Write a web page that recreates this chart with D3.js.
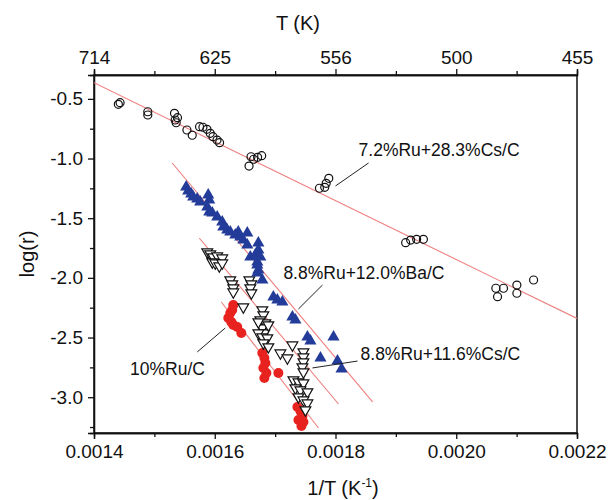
<!DOCTYPE html>
<html>
<head>
<meta charset="utf-8">
<script src="https://cdn.jsdelivr.net/npm/d3@7"></script>
<style>
  body { margin: 0; background: #fff; }
  text { font-family: "Liberation Sans", Arial, sans-serif; fill: #111; }
</style>
</head>
<body>
<script>
// data: [1/T, log(r)]
var csHigh = [
  [0.0014403, -0.546], [0.0014432, -0.532], [0.0014891, -0.635], [0.0014891, -0.608],
  [0.0015333, -0.621], [0.0015344, -0.677], [0.0015361, -0.700], [0.0015383, -0.658],
  [0.0015539, -0.761], [0.0015627, -0.805], [0.0015748, -0.733], [0.0015804, -0.738],
  [0.0015871, -0.755], [0.0015925, -0.789], [0.0015970, -0.817], [0.0016037, -0.845],
  [0.0016080, -0.867], [0.0016568, -1.063], [0.0016601, -0.985], [0.0016644, -1.006],
  [0.0016710, -0.990], [0.0016777, -0.976], [0.0017734, -1.249], [0.0017822, -1.241],
  [0.0017846, -1.208], [0.0017889, -1.166], [0.0019162, -1.705], [0.0019245, -1.683],
  [0.0019344, -1.677], [0.0019456, -1.677], [0.0020656, -2.087], [0.0020684, -2.158],
  [0.0020783, -2.087], [0.0021004, -2.060], [0.0021004, -2.129], [0.0021281, -2.018]
];
var baC = [
  [0.0015527, -1.239], [0.0015560, -1.272], [0.0015610, -1.297], [0.0015643, -1.322],
  [0.0015710, -1.339], [0.0015759, -1.364], [0.0015892, -1.306], [0.0015909, -1.348],
  [0.0015876, -1.406], [0.0015909, -1.448], [0.0015959, -1.456], [0.0016041, -1.490],
  [0.0016124, -1.532], [0.0016141, -1.574], [0.0016207, -1.599], [0.0016257, -1.616],
  [0.0016340, -1.641], [0.0016390, -1.616], [0.0016423, -1.658], [0.0016473, -1.683],
  [0.0016539, -1.624], [0.0016539, -1.725], [0.0016589, -1.825], [0.0016722, -1.708],
  [0.0016722, -1.767], [0.0016755, -1.825], [0.0016672, -1.808], [0.0016705, -1.867],
  [0.0016705, -1.892], [0.0016722, -1.934], [0.0016705, -1.959], [0.0016788, -2.018],
  [0.0016971, -2.160], [0.0017037, -2.186], [0.0017120, -2.202], [0.0017286, -2.328],
  [0.0017336, -2.353], [0.0017535, -2.496], [0.0017585, -2.529], [0.0017751, -2.672],
  [0.0017967, -2.496], [0.0018033, -2.697], [0.0018100, -2.764]
];
var csLow = [
  [0.0015876, -1.783], [0.0015925, -1.800], [0.0015975, -1.825], [0.0016041, -1.817],
  [0.0016124, -1.834], [0.0015959, -1.867], [0.0016008, -1.876], [0.0016075, -1.901],
  [0.0016124, -1.876], [0.0016257, -2.018], [0.0016290, -2.051], [0.0016307, -2.085],
  [0.0016307, -2.119], [0.0016573, -2.018], [0.0016606, -2.051], [0.0016589, -2.085],
  [0.0016606, -2.127], [0.0016473, -2.244], [0.0016788, -2.269], [0.0016805, -2.311],
  [0.0016755, -2.353], [0.0016838, -2.378], [0.0016788, -2.420], [0.0016822, -2.462],
  [0.0016722, -2.370], [0.0016888, -2.395], [0.0016722, -2.462], [0.0016788, -2.496],
  [0.0016871, -2.504], [0.0016805, -2.546], [0.0016888, -2.579], [0.0017286, -2.563],
  [0.0017087, -2.630], [0.0017203, -2.672], [0.0017469, -2.621], [0.0017469, -2.663],
  [0.0017469, -2.705], [0.0017452, -2.747], [0.0017469, -2.789], [0.0017303, -2.856],
  [0.0017386, -2.873], [0.0017469, -2.881], [0.0017336, -2.923], [0.0017419, -2.940],
  [0.0017535, -2.956], [0.0017386, -2.998], [0.0017469, -3.024], [0.0017535, -3.049],
  [0.0017502, -3.107]
];
var ruC = [
  [0.0016307, -2.227], [0.0016290, -2.269], [0.0016257, -2.294], [0.0016224, -2.336],
  [0.0016274, -2.370], [0.0016307, -2.395], [0.0016373, -2.412], [0.0016440, -2.462],
  [0.0016788, -2.630], [0.0016822, -2.672], [0.0016838, -2.713], [0.0016805, -2.755],
  [0.0016855, -2.797], [0.0016822, -2.839], [0.0017054, -2.797], [0.0017369, -3.082],
  [0.0017419, -3.116], [0.0017452, -3.158], [0.0017386, -3.191], [0.0017469, -3.208],
  [0.0017436, -3.241]
];

// fitted lines: [x1, y1, x2, y2]
var fits = [
  [0.0014, -0.365, 0.0022, -2.34],
  [0.0015295, -1.0375, 0.0018614, -3.04],
  [0.0015743, -1.666, 0.0018050, -3.057],
  [0.0016108, -2.202, 0.0017718, -3.258]
];

// labels: text, text start [x, y], pointer [x1, y1, x2, y2]
var labels = [
  { text: '7.2%Ru+28.3%Cs/C', at: [0.0018382, -0.979], ptr: [0.0018548, -1.037, 0.0018000, -1.230] },
  { text: '8.8%Ru+12.0%Ba/C', at: [0.0017137, -2.010], ptr: [0.0017784, -2.060, 0.0017386, -2.261] },
  { text: '8.8%Ru+11.6%Cs/C', at: [0.0018415, -2.688], ptr: [0.0018365, -2.697, 0.0017618, -2.755] },
  { text: '10%Ru/C', at: [0.0014598, -2.814], ptr: [0.0015710, -2.621, 0.0016174, -2.420] }
];

var xTicks = [0.0014, 0.0016, 0.0018, 0.0020, 0.0022];
var xMinor = [0.0015, 0.0017, 0.0019, 0.0021];
var topLabels = ['714', '625', '556', '500', '455'];
var yTicks = [-0.5, -1.0, -1.5, -2.0, -2.5, -3.0];
var yMinor = [-0.75, -1.25, -1.75, -2.25, -2.75, -3.25];

var svgWidth = 610, svgHeight = 500;
var margin = { top: 75, left: 94, right: 33, bottom: 67 };
var chartWidth = svgWidth - margin.left - margin.right;
var chartHeight = svgHeight - margin.top - margin.bottom;

var svg = d3.select('body').append('svg')
  .attr('width', svgWidth)
  .attr('height', svgHeight);

var chartGroup = svg.append('g')
  .attr('transform', `translate(${margin.left}, ${margin.top})`);

var x = d3.scaleLinear().domain([0.0014, 0.0022]).range([0, chartWidth]);
var y = d3.scaleLinear().domain([-3.3, -0.3]).range([chartHeight, 0]);

function styleAxis(g) {
  g.selectAll('path, line').attr('stroke', '#111').attr('stroke-width', 1.3);
  g.selectAll('text').attr('font-size', '19px').style('font-family', '"Liberation Sans", Arial, sans-serif').attr('fill', '#111');
}

// frame
chartGroup.append('rect')
  .attr('width', chartWidth).attr('height', chartHeight)
  .attr('fill', 'none').attr('stroke', '#111').attr('stroke-width', 1.5);

// bottom axis
chartGroup.append('g')
  .attr('transform', `translate(0, ${chartHeight})`)
  .call(d3.axisBottom(x).tickValues(xTicks).tickFormat(d => d.toFixed(4)).tickSizeOuter(0).tickSize(6).tickPadding(6))
  .call(styleAxis);
chartGroup.append('g')
  .attr('transform', `translate(0, ${chartHeight})`)
  .call(d3.axisBottom(x).tickValues(xMinor).tickFormat('').tickSizeOuter(0).tickSize(4))
  .call(styleAxis);

// top axis, labelled with T
chartGroup.append('g')
  .call(d3.axisTop(x).tickValues(xTicks).tickFormat((d, i) => topLabels[i]).tickSizeOuter(0).tickSize(6).tickPadding(5))
  .call(styleAxis);
chartGroup.append('g')
  .call(d3.axisTop(x).tickValues(xMinor).tickFormat('').tickSizeOuter(0).tickSize(4))
  .call(styleAxis);

// left axis
chartGroup.append('g')
  .call(d3.axisLeft(y).tickValues(yTicks).tickFormat(d => d.toFixed(1)).tickSizeOuter(0).tickSize(6).tickPadding(5))
  .call(styleAxis);
chartGroup.append('g')
  .call(d3.axisLeft(y).tickValues(yMinor).tickFormat('').tickSizeOuter(0).tickSize(4))
  .call(styleAxis);

// clip for data
svg.append('clipPath').attr('id', 'plot')
  .append('rect').attr('width', chartWidth).attr('height', chartHeight);
var plot = chartGroup.append('g').attr('clip-path', 'url(#plot)');

// fit lines
plot.selectAll('.fit')
  .data(fits)
  .enter()
  .append('line')
  .attr('x1', d => x(d[0])).attr('y1', d => y(d[1]))
  .attr('x2', d => x(d[2])).attr('y2', d => y(d[3]))
  .attr('stroke', '#ee7f7f').attr('stroke-width', 1.1);

// 10%Ru/C red dots
plot.selectAll('.ru')
  .data(ruC)
  .enter()
  .append('circle')
  .attr('cx', d => x(d[0])).attr('cy', d => y(d[1]))
  .attr('r', 5)
  .attr('fill', '#e8231f');

// 8.8%Ru+11.6%Cs/C open down triangles
var triDown = d3.symbol().type(d3.symbolTriangle).size(50);
plot.selectAll('.cslow')
  .data(csLow)
  .enter()
  .append('path')
  .attr('d', triDown)
  .attr('transform', d => `translate(${x(d[0])}, ${y(d[1])}) rotate(180)`)
  .attr('fill', '#fff').attr('stroke', '#111').attr('stroke-width', 1.2);

// 8.8%Ru+12.0%Ba/C blue triangles
var triUp = d3.symbol().type(d3.symbolTriangle).size(64);
plot.selectAll('.ba')
  .data(baC)
  .enter()
  .append('path')
  .attr('d', triUp)
  .attr('transform', d => `translate(${x(d[0])}, ${y(d[1])})`)
  .attr('fill', '#233b99');

// 7.2%Ru+28.3%Cs/C open circles
plot.selectAll('.cshigh')
  .data(csHigh)
  .enter()
  .append('circle')
  .attr('cx', d => x(d[0])).attr('cy', d => y(d[1]))
  .attr('r', 4)
  .attr('fill', 'none').attr('stroke', '#111').attr('stroke-width', 1.2);

// annotations
chartGroup.selectAll('.ptr')
  .data(labels)
  .enter()
  .append('line')
  .attr('x1', d => x(d.ptr[0])).attr('y1', d => y(d.ptr[1]))
  .attr('x2', d => x(d.ptr[2])).attr('y2', d => y(d.ptr[3]))
  .attr('stroke', '#222').attr('stroke-width', 1);

chartGroup.selectAll('.lbl')
  .data(labels)
  .enter()
  .append('text')
  .attr('x', d => x(d.at[0])).attr('y', d => y(d.at[1]))
  .attr('font-size', '17.5px')
  .text(d => d.text);

// axis titles
svg.append('text')
  .attr('x', 298).attr('y', 30)
  .attr('text-anchor', 'middle').attr('font-size', '20px')
  .text('T (K)');

var xt = svg.append('text')
  .attr('x', 343).attr('y', 495)
  .attr('text-anchor', 'middle').attr('font-size', '20px');
xt.append('tspan').text('1/T (K');
xt.append('tspan').attr('dy', -8).attr('font-size', '12px').text('-1');
xt.append('tspan').attr('dy', 8).text(')');

svg.append('text')
  .attr('transform', `translate(34, ${margin.top + chartHeight / 2}) rotate(-90)`)
  .attr('text-anchor', 'middle').attr('font-size', '20px')
  .text('log(r)');
</script>
</body>
</html>
